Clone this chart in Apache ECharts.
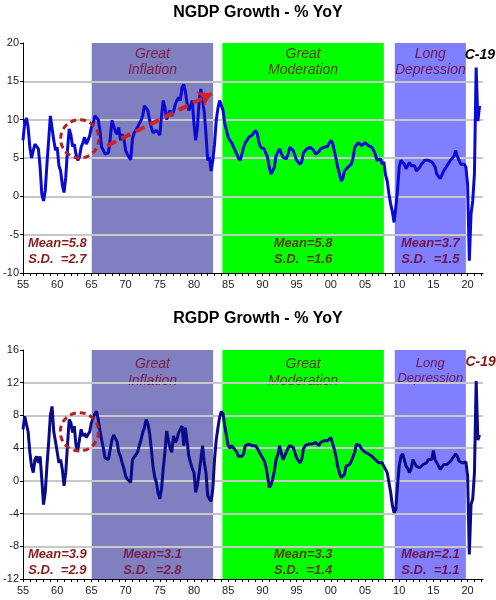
<!DOCTYPE html>
<html>
<head>
<meta charset="utf-8">
<script src="https://cdn.jsdelivr.net/npm/echarts@6/dist/echarts.min.js"></script>
<style>
  html, body { margin: 0; padding: 0; background: #fff; }
  #chart-container { width: 496px; height: 600px; }
</style>
</head>
<body>
<div id="chart-container"></div>
<script>
// quarterly YoY % growth, 1955Q1 .. 2021Q4
var startYear = 1955;
// prettier-ignore
var ngdp = [
  7.3, 9.6, 10.2, 9.0,   6.4, 5.0, 6.0, 6.8,   6.6, 6.2, 3.8, 0.3,   -0.6, 0.7, 4.2, 7.3,
  10.5, 10.7, 7.3, 6.0,  6.4, 4.0, 3.3, 1.5,   0.5, 2.5, 6.0, 8.8,   8.0, 6.5, 6.8, 5.5,
  4.7, 5.1, 6.4, 7.0,    7.7, 6.8, 7.3, 7.9,   9.0, 9.5, 10.5, 10.7, 10.0, 8.6, 6.4, 6.0,
  5.5, 5.3, 5.7, 7.5,    9.9, 9.7, 8.5, 8.1,   9.0, 7.3, 8.1, 7.5,   6.0, 5.5, 5.1, 4.8,
  7.5, 8.3, 8.3, 9.0,    9.5, 9.9, 10.5, 11.8, 11.8, 11.2, 10.0, 9.0, 8.3, 8.3, 8.6, 8.3,
  8.0, 10.5, 12.5, 11.6, 10.0, 10.7, 11.2, 10.5, 11.0, 12.0, 12.5, 12.9, 12.5, 14.2, 14.6, 13.6,
  12.0, 11.2, 11.2, 12.5, 9.4, 7.3, 9.0, 12.5, 14.0, 12.5, 11.0, 8.1, 4.7, 5.1, 3.3, 4.7,
  6.8, 9.9, 11.5, 12.5,  12.3, 11.2, 9.5, 8.6, 7.7, 7.3, 7.0, 6.8,   6.0, 5.5, 5.0, 4.7,
  5.5, 6.4, 7.0, 7.3,    7.7, 7.8, 8.0, 8.1,   8.6, 8.2, 7.0, 6.4,   6.4, 6.2, 5.6, 5.1,
  3.8, 2.9, 3.3, 3.8,    5.3, 5.5, 6.2, 6.4,   5.1, 5.0, 4.9, 5.5,   6.4, 6.3, 6.0, 6.0,
  4.7, 4.5, 4.2, 4.5,    5.7, 5.9, 6.2, 6.2,   6.4, 6.2, 6.0, 5.5,   5.6, 5.8, 6.2, 6.2,
  6.4, 6.3, 6.5, 6.6,    7.3, 7.0, 6.0, 5.0,   3.8, 3.0, 2.0, 2.3,   3.3, 3.5, 3.8, 3.8,
  4.2, 5.0, 6.4, 6.6,    7.0, 6.8, 6.6, 6.8,   7.0, 6.8, 6.6, 6.4,   6.4, 6.0, 5.5, 4.7,
  4.9, 4.9, 4.2, 4.5,    2.8, 2.0, 0.3, -1.0,  -2.0, -3.4, -1.5, 0.8, 3.8, 4.7, 4.5, 4.2,
  3.6, 3.8, 4.4, 4.0,    4.2, 4.0, 3.3, 3.5,   3.8, 4.2, 4.0, 4.7,   4.5, 4.7, 4.9, 4.5,
  4.2, 3.8, 2.9, 2.6,    2.3, 2.8, 3.3, 3.5,   4.0, 4.2, 4.7, 4.9,   5.2, 6.0, 5.2, 4.7,
  4.2, 4.2, 4.2, 3.8,    1.5, -8.4, -2.3, -0.6, 3.0, 16.8, 9.8, 11.8
];
// prettier-ignore
var rgdp = [
  6.3, 7.9, 8.0, 6.0,    3.5, 1.8, 1.0, 2.6,   3.0, 2.2, 3.0, 0.2,   -2.9, -1.4, 1.8, 4.7,
  8.0, 9.1, 6.0, 4.8,    4.7, 2.2, 2.6, 1.4,   -0.6, 1.0, 4.3, 7.5,  7.1, 5.9, 6.7, 4.3,
  3.7, 5.0, 6.3, 5.5,    5.8, 5.3, 5.7, 6.0,   7.1, 7.3, 8.2, 8.5,   7.5, 6.2, 5.0, 4.0,
  2.8, 2.6, 2.6, 3.8,    5.0, 5.6, 5.2, 4.8,   3.5, 3.0, 2.2, 1.5,   0.6, 0.2, 0.0, -0.2,
  2.6, 2.8, 3.2, 3.5,    4.3, 5.0, 5.9, 6.5,   7.5, 7.0, 5.9, 4.0,   1.8, 0.5, -0.2, -1.5,
  -2.2, -1.0, 1.5, 3.5,  6.1, 5.0, 4.0, 3.5,   5.5, 4.7, 5.0, 5.9,   6.0, 6.7, 4.3, 6.5,
  6.7, 3.0, 2.2, 1.5,    1.0, -1.4, -0.5, 1.0, 2.6, 4.3, 2.2, 1.0,   -1.8, -2.2, -2.5, -1.0,
  2.6, 5.0, 6.5, 7.8,    8.5, 8.2, 6.7, 5.5,   4.3, 4.0, 4.3, 4.3,   3.8, 3.5, 3.0, 2.8,
  3.0, 3.3, 4.3, 4.3,    4.5, 4.3, 4.3, 4.3,   4.3, 4.0, 3.9, 3.2,   3.0, 2.5, 1.8, 0.6,
  -0.8, -0.5, 0.2, 1.2,  2.6, 3.2, 4.3, 4.3,   2.6, 2.8, 3.5, 4.0,   4.3, 4.3, 4.1, 4.1,
  2.8, 2.5, 2.2, 2.6,    3.9, 4.3, 4.3, 4.5,   4.5, 4.5, 4.7, 4.7,   4.9, 4.3, 4.7, 4.9,
  4.9, 4.7, 4.9, 4.9,    5.3, 5.3, 3.9, 3.0,   1.8, 1.0, 0.4, 0.2,   0.8, 1.8, 2.0, 2.0,
  2.4, 2.4, 3.5, 4.5,    4.3, 4.3, 3.9, 3.7,   3.5, 3.5, 3.3, 3.3,   3.0, 3.0, 2.6, 2.4,
  2.2, 2.2, 2.2, 2.2,    1.4, 1.0, -0.2, -1.4, -3.0, -3.9, -3.5, -0.6, 1.8, 3.0, 3.3, 2.6,
  1.8, 1.5, 1.0, 1.5,    2.6, 2.4, 1.8, 1.6,   1.6, 1.8, 2.0, 2.2,   2.2, 2.6, 2.8, 2.6,
  3.7, 2.6, 2.2, 1.8,    1.4, 1.4, 2.0, 2.0,   2.0, 2.2, 2.4, 2.6,   3.0, 3.3, 3.0, 2.4,
  2.4, 2.2, 2.2, 2.3,    0.6, -9.0, -2.9, -2.2, 1.0, 12.2, 5.0, 5.6
];

var regionNames = ["Great\nInflation", "Great\nModeration", "Long\nDepression"];
var regionStart = [1965.05, 1984.15, 2009.35];
var regionEnd = [1982.8, 2007.75, 2019.75];

// stats boxes: pre-1965, Great Inflation, Great Moderation, Long Depression
var statStart = [1955, 1965.05, 1984.15, 2009.35];
var statEnd = [1965.05, 1982.8, 2007.75, 2019.75];
var ngdpMean = ["5.8", null, "5.8", "3.7"];
var ngdpSD = ["2.7", null, "1.6", "1.5"];
var rgdpMean = ["3.9", "3.1", "3.3", "2.1"];
var rgdpSD = ["2.9", "2.8", "1.4", "1.1"];

var ngdpArrow = [[1967.3, 6.6], [1982.6, 13.4]];
var ngdpCircle = [1963.3, 7.5, 2.8];
var rgdpCircle = [1963.25, 6.0, 2.8];
var ngdpCovid = [2021.8, 18.4];
var rgdpCovid = [2021.9, 14.5];

var regionFill = ["#8080c0", "#00ff00", "#8080ff"];
var regionText = ["#7a1f45", "#5c3d0c", "#6e1650"];
var statText = ["#8b1a1a", "#7a1f45", "#5c3d0c", "#6e1650"];

function pairs(vals) {
  return vals.map(function (v, i) {
    return [startYear + i / 4, v];
  });
}

function yearLabel(v) {
  if (Math.abs(v % 5) > 1e-6) return "";
  var y = Math.round(v) % 100;
  return (y < 10 ? "0" : "") + y;
}

var dom = document.getElementById("chart-container");
var myChart = echarts.init(dom, null, { renderer: "canvas" });

function xAxisFor(grid) {
  return {
    type: "value",
    gridIndex: grid,
    min: 1955,
    max: 2022.25,
    interval: 1,
    z: 2,
    axisLine: { show: true, onZero: false, lineStyle: { color: "#000", width: 1 } },
    axisTick: { show: true, length: 3, lineStyle: { color: "#000" } },
    axisLabel: {
      formatter: yearLabel,
      color: "#222",
      fontSize: 11,
      fontFamily: "Arial",
      margin: 6,
      showMaxLabel: false,
    },
    splitLine: { show: false },
  };
}

function yAxisFor(grid, min, max, step) {
  return {
    type: "value",
    gridIndex: grid,
    min: min,
    max: max,
    interval: step,
    z: 2,
    axisLine: { show: true, onZero: false, lineStyle: { color: "#000", width: 1 } },
    axisTick: { show: true, length: 3, lineStyle: { color: "#000" } },
    axisLabel: { color: "#222", fontSize: 11, fontFamily: "Arial", margin: 4 },
    splitLine: {
      show: true,
      showMinLine: false,
      showMaxLine: false,
      lineStyle: { color: "#c8c8c8", width: 2 },
    },
  };
}

// shaded periods, drawn under the gridlines
function shadeSeries(grid) {
  return {
    type: "line",
    data: [],
    xAxisIndex: grid,
    yAxisIndex: grid,
    z: 1,
    silent: true,
    markArea: {
      silent: true,
      data: regionNames.map(function (name, i) {
        return [
          { xAxis: regionStart[i], yAxis: "max", itemStyle: { color: regionFill[i], opacity: 1 } },
          { xAxis: regionEnd[i], yAxis: "min" },
        ];
      }),
    },
  };
}

// transparent boxes carrying the texts, drawn over the gridlines
function textSeries(grid, starts, ends, texts, colors, pos, dist, font) {
  var items = [];
  texts.forEach(function (t, i) {
    if (t === null) return;
    items.push([
      {
        xAxis: starts[i],
        yAxis: "max",
        itemStyle: { color: "rgba(0,0,0,0)" },
        label: Object.assign(
          {
            show: true,
            formatter: t,
            position: pos,
            distance: dist,
            color: colors[i],
            fontStyle: "italic",
            fontFamily: "Arial",
          },
          font[i] || font
        ),
      },
      { xAxis: ends[i], yAxis: "min" },
    ]);
  });
  return {
    type: "line",
    data: [],
    xAxisIndex: grid,
    yAxisIndex: grid,
    z: 6,
    silent: true,
    markArea: { silent: true, data: items },
  };
}

function statTexts(means, sds) {
  return means.map(function (m, i) {
    return m === null ? null : "Mean=" + m + "\nS.D.  =" + sds[i];
  });
}

var statFont = { fontSize: 13, lineHeight: 16, fontWeight: "bold" };

function circleSeries(grid, c) {
  return {
    type: "custom",
    xAxisIndex: grid,
    yAxisIndex: grid,
    z: 4,
    silent: true,
    data: [c],
    renderItem: function (params, api) {
      var p = api.coord([api.value(0), api.value(1)]);
      var r = api.size([api.value(2), 0])[0];
      return {
        type: "circle",
        shape: { cx: p[0], cy: p[1], r: r },
        style: { fill: "none", stroke: "#b52020", lineWidth: 3, lineDash: [6, 4] },
      };
    },
  };
}

function covidPoint(coord, color) {
  return {
    silent: true,
    symbol: "circle",
    symbolSize: 0,
    data: [
      {
        coord: coord,
        label: {
          show: true,
          position: "inside",
          formatter: "C-19",
          color: color,
          fontSize: 14,
          fontStyle: "italic",
          fontWeight: "bold",
          fontFamily: "Arial",
        },
      },
    ],
  };
}

var option = {
  animation: false,
  backgroundColor: "#fff",
  title: [
    {
      text: "NGDP Growth - % YoY",
      left: 253,
      top: 0,
      textAlign: "center",
      textStyle: { fontSize: 16, fontWeight: "bold", color: "#000", fontFamily: "Arial" },
    },
    {
      text: "RGDP Growth - % YoY",
      left: 253,
      top: 306,
      textAlign: "center",
      textStyle: { fontSize: 16, fontWeight: "bold", color: "#000", fontFamily: "Arial" },
    },
  ],
  grid: [
    { left: 23, top: 43, width: 460, height: 230, outerBoundsMode: "none" },
    { left: 23, top: 350, width: 460, height: 229, outerBoundsMode: "none" },
  ],
  xAxis: [xAxisFor(0), xAxisFor(1)],
  yAxis: [yAxisFor(0, -10, 20, 5), yAxisFor(1, -12, 16, 4)],
  series: [
    shadeSeries(0),
    shadeSeries(1),
    textSeries(0, regionStart, regionEnd, regionNames, regionText, "insideTop", 3,
      { fontSize: 14, lineHeight: 16 }),
    textSeries(1, regionStart, regionEnd, regionNames, regionText, "insideTop", 6,
      [{ fontSize: 14, lineHeight: 17 }, { fontSize: 14, lineHeight: 17 }, { fontSize: 13, lineHeight: 15 }]),
    textSeries(0, statStart, statEnd, statTexts(ngdpMean, ngdpSD), statText, "insideBottom", 6, statFont),
    textSeries(1, statStart, statEnd, statTexts(rgdpMean, rgdpSD), statText, "insideBottom", 1, statFont),
    {
      type: "line",
      name: "NGDP",
      xAxisIndex: 0,
      yAxisIndex: 0,
      z: 3,
      data: pairs(ngdp),
      showSymbol: false,
      lineStyle: { color: "#0a0ad8", width: 3 },
      markLine: {
        silent: true,
        symbol: ["none", "arrow"],
        symbolSize: 13,
        label: { show: false },
        lineStyle: { color: "#d02424", width: 4, type: [10, 6] },
        data: [[{ coord: ngdpArrow[0] }, { coord: ngdpArrow[1] }]],
      },
      markPoint: covidPoint(ngdpCovid, "#000"),
    },
    {
      type: "line",
      name: "RGDP",
      xAxisIndex: 1,
      yAxisIndex: 1,
      z: 3,
      data: pairs(rgdp),
      showSymbol: false,
      lineStyle: { color: "#0a0a8c", width: 3 },
      markPoint: covidPoint(rgdpCovid, "#8b1a1a"),
    },
    circleSeries(0, ngdpCircle),
    circleSeries(1, rgdpCircle),
  ],
};

myChart.setOption(option);
window.addEventListener("resize", myChart.resize);
</script>
</body>
</html>
